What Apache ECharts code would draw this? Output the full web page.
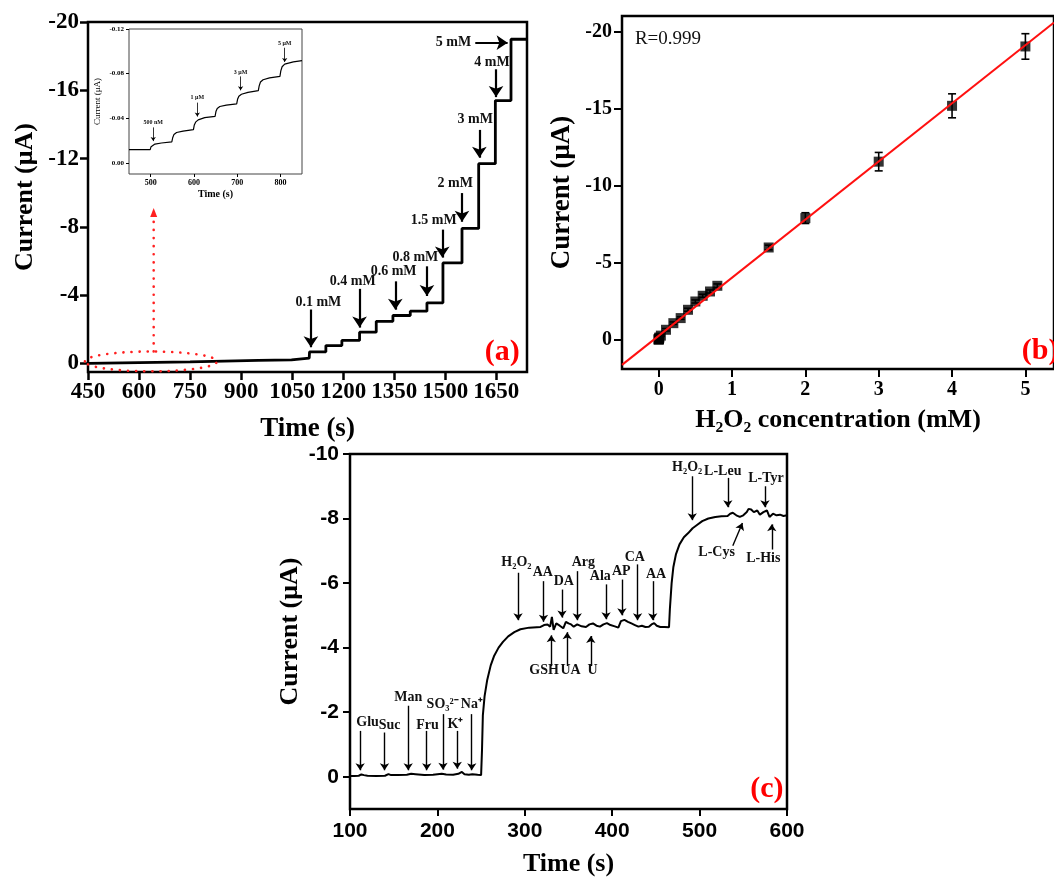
<!DOCTYPE html>
<html>
<head>
<meta charset="utf-8">
<title>H2O2 amperometric response</title>
<script src="https://cdn.jsdelivr.net/npm/echarts@6/dist/echarts.min.js"></script>
<style>
  html, body { margin: 0; padding: 0; background: #fff; }
  #chart { width: 1054px; height: 878px; }
</style>
</head>
<body>
<div id="chart"></div>
<script>
// ---------- panel (a): current steps vs time ----------
var aTickX = [450, 600, 750, 900, 1050, 1200, 1350, 1500, 1650];
var aTickY = [-20, -16, -12, -8, -4, 0];
var aBaseline = [[450, 0], [550, -0.03], [650, -0.06], [750, -0.09], [850, -0.14], [950, -0.18], [1048, -0.21], [1052, -0.27], [1100, -0.31]];
var aStepTimes = [1101, 1149, 1196, 1248, 1297, 1346, 1397, 1446, 1493, 1549, 1598, 1647, 1693];
var aStepLevels = [-0.68, -1.05, -1.35, -1.83, -2.47, -2.81, -3.06, -3.55, -5.89, -7.91, -11.70, -15.40, -18.99];
var aEndTime = 1740;
// [text, text t, text i, arrow t0, arrow i0, arrow t1, arrow i1]
var aNotes = [
  ['0.1 mM', 1127, -3.58, 1105, -3.16, 1105, -0.95],
  ['0.4 mM', 1228, -4.81, 1248, -4.37, 1248, -2.1],
  ['0.6 mM', 1348, -5.40, 1353, -4.81, 1353, -3.15],
  ['0.8 mM', 1412, -6.22, 1446, -5.69, 1446, -3.95],
  ['1.5 mM', 1466, -8.38, 1491, -7.84, 1491, -6.2],
  ['2 mM', 1529, -10.57, 1549, -9.98, 1549, -8.3],
  ['3 mM', 1588, -14.27, 1600, -13.68, 1600, -12.05],
  ['4 mM', 1637, -17.62, 1649, -17.23, 1649, -15.6],
  ['5 mM', 1524, -18.79, 1588, -18.79, 1683, -18.79]
];

// inset of (a)
var insetTickX = [500, 600, 700, 800];
var insetTickY = [-0.12, -0.08, -0.04, 0];
var insetCurve = [[450, -0.0119], [499, -0.0119], [501, -0.0145], [504, -0.0158], [510, -0.0168], [525, -0.0178], [549, -0.0188],
  [551, -0.0225], [554, -0.0255], [560, -0.0272], [575, -0.0285], [599, -0.0298],
  [601, -0.034], [604, -0.0365], [610, -0.0385], [625, -0.0405], [649, -0.0417],
  [651, -0.046], [654, -0.0488], [660, -0.0505], [675, -0.0518], [699, -0.0528],
  [701, -0.057], [704, -0.0598], [710, -0.0615], [725, -0.0632], [749, -0.0647],
  [751, -0.069], [754, -0.0725], [760, -0.0745], [775, -0.0762], [799, -0.0775],
  [801, -0.0825], [804, -0.0862], [810, -0.0885], [830, -0.0905], [850, -0.0916]];
var insetNotes = [
  ['500 nM', 506, -0.0358, 506, -0.0318, 506, -0.0195],
  ['1 μM', 608, -0.0582, 608, -0.0540, 608, -0.0415],
  ['3 μM', 708, -0.0814, 708, -0.0775, 708, -0.0650],
  ['5 μM', 810, -0.1074, 810, -0.1032, 810, -0.0905]
];

// ---------- panel (b): calibration ----------
var bTickX = [0, 1, 2, 3, 4, 5];
var bTickY = [-20, -15, -10, -5, 0];
var bConc = [0, 0.0005, 0.001, 0.003, 0.005, 0.01, 0.03, 0.1, 0.2, 0.3, 0.4, 0.5, 0.6, 0.7, 0.8, 1.5, 2, 3, 4, 5];
var bCurrent = [-0.01, -0.02, -0.04, -0.06, -0.09, -0.15, -0.27, -0.65, -1.08, -1.41, -1.95, -2.49, -2.86, -3.14, -3.51, -6.0, -7.91, -11.58, -15.21, -19.07];
var bError = [0.05, 0.05, 0.05, 0.05, 0.05, 0.05, 0.05, 0.08, 0.08, 0.08, 0.1, 0.1, 0.1, 0.1, 0.12, 0.15, 0.35, 0.6, 0.78, 0.83];

// ---------- panel (c): interference ----------
var cTickX = [100, 200, 300, 400, 500, 600];
var cTickY = [-10, -8, -6, -4, -2, 0];
var cCurve = [[100, -0.02], [105, -0.02], [110, -0.03], [113, -0.07], [116, -0.05], [120, -0.03], [130, -0.02], [140, -0.03],
  [144, -0.08], [147, -0.05], [155, -0.05], [165, -0.06], [170, -0.09], [175, -0.08], [185, -0.05], [195, -0.06],
  [205, -0.09], [210, -0.07], [218, -0.06], [224, -0.09], [228, -0.15], [231, -0.08], [236, -0.06], [240, -0.08],
  [246, -0.06], [250, -0.05],
  [251, -0.8], [252, -1.9], [254, -2.5], [257, -3.0], [261, -3.45], [265, -3.75], [270, -4.0], [275, -4.18],
  [281, -4.35], [288, -4.48], [295, -4.57], [305, -4.62], [318, -4.64], [322, -4.7], [326, -4.72], [329, -4.65],
  [331, -4.95], [333, -4.55], [336, -4.75], [340, -4.68], [344, -4.6], [347, -4.8], [350, -4.75], [353, -4.72],
  [356, -4.65], [360, -4.72], [365, -4.66], [370, -4.64], [374, -4.72], [378, -4.75], [382, -4.68], [386, -4.65],
  [390, -4.72], [394, -4.76], [398, -4.7], [403, -4.66], [407, -4.62], [410, -4.82], [414, -4.86], [418, -4.8],
  [422, -4.75], [426, -4.7], [430, -4.65], [434, -4.68], [438, -4.64], [442, -4.65], [445, -4.72], [448, -4.76],
  [451, -4.68], [455, -4.64], [460, -4.64], [465, -4.63],
  [466, -5.2], [468, -6.0], [470, -6.5], [473, -6.9], [477, -7.2], [482, -7.42], [487, -7.55], [492, -7.7],
  [497, -7.8], [503, -7.92], [510, -8.0], [518, -8.05], [525, -8.07], [532, -8.08], [535, -8.15], [538, -8.18],
  [542, -8.1], [546, -8.05], [550, -8.1], [554, -8.2], [556, -8.3], [559, -8.28], [562, -8.2], [566, -8.25],
  [569, -8.12], [573, -8.2], [577, -8.25], [580, -8.05], [584, -8.15], [588, -8.1], [592, -8.12], [596, -8.08], [600, -8.1]];
var cNotes = [
  ['Glu', 120.1, -1.68, 111.6, -1.42, 111.6, -0.2],
  ['Suc', 145.3, -1.58, 139.5, -1.37, 139.5, -0.2],
  ['Man', 166.6, -2.45, 166.6, -2.2, 166.6, -0.2],
  ['Fru', 188.6, -1.6, 187.8, -1.42, 187.8, -0.2],
  ['SO₃²⁻', 206, -2.25, 206.4, -1.94, 206.4, -0.22],
  ['K⁺', 220.7, -1.63, 222.7, -1.42, 222.7, -0.25],
  ['Na⁺', 239.5, -2.25, 239.3, -1.94, 239.3, -0.2],
  ['H₂O₂', 290.4, -6.63, 292.3, -6.32, 292.3, -4.85],
  ['AA', 320.6, -6.32, 321.4, -6.06, 321.4, -4.8],
  ['DA', 344.6, -6.06, 342.6, -5.8, 342.6, -4.93],
  ['Arg', 367, -6.63, 360, -6.37, 360, -4.85],
  ['Ala', 386.4, -6.22, 393, -5.96, 393, -4.88],
  ['AP', 410.4, -6.37, 411.1, -6.11, 411.1, -5.0],
  ['CA', 425.9, -6.81, 429, -6.58, 429, -4.85],
  ['AA', 450.2, -6.27, 446.4, -6.06, 446.4, -4.85],
  ['H₂O₂', 485.8, -9.57, 491.6, -9.31, 491.6, -7.95],
  ['L-Leu', 526.5, -9.46, 532.3, -9.26, 532.3, -8.35],
  ['L-Tyr', 576, -9.23, 574.8, -9.0, 574.8, -8.35],
  ['GSH', 322.1, -3.28, 330.3, -3.43, 330.3, -4.38],
  ['UA', 352.3, -3.28, 348.5, -3.43, 348.5, -4.48],
  ['U', 377.5, -3.28, 375.5, -3.43, 375.5, -4.36],
  ['L-Cys', 519.5, -6.94, 538, -7.16, 549, -7.86],
  ['L-His', 572.9, -6.78, 582.6, -7.04, 582.6, -7.82]
];

var SERIF = "'Liberation Serif', 'Times New Roman', serif";
var SANS = "'Liberation Sans', Arial, sans-serif";

// step trace for (a)
var aData = aBaseline.slice();
var prev = aBaseline[aBaseline.length - 1][1];
aStepTimes.forEach(function (t, i) {
  aData.push([t, prev]);
  aData.push([t, aStepLevels[i]]);
  prev = aStepLevels[i];
});
aData.push([aEndTime, prev]);

// least squares fit for (b)
var n = bConc.length, sx = 0, sy = 0, sxx = 0, sxy = 0;
bConc.forEach(function (c, i) {
  sx += c; sy += bCurrent[i]; sxx += c * c; sxy += c * bCurrent[i];
});
var slope = (n * sxy - sx * sy) / (n * sxx - sx * sx);
var icpt = (sy - slope * sx) / n;
var bMin = -0.5, bMax = 5.39;
var fitData = [[bMin, icpt + slope * bMin], [bMax, icpt + slope * bMax]];

function axis(grid, min, max, ticks, o) {
  return {
    type: 'value', gridIndex: grid, min: min, max: max, inverse: !!o.inverse,
    axisLine: { show: false, onZero: false },
    splitLine: { show: false },
    axisTick: { show: true, customValues: ticks, length: o.tickLen, lineStyle: { color: '#000', width: o.tickW } },
    axisLabel: {
      customValues: ticks, margin: o.margin, color: '#000',
      fontFamily: o.font, fontWeight: 'bold', fontSize: o.size,
      formatter: o.fmt || function (v) { return String(v); }
    },
    name: o.name, nameLocation: 'middle', nameGap: o.nameGap,
    nameTextStyle: { fontFamily: SERIF, fontWeight: o.nameWeight || 'bold', fontSize: o.nameSize, color: '#000' }
  };
}

function arrows(notes, width, size) {
  return {
    silent: true, animation: false, symbol: ['none', 'arrow'], symbolSize: size,
    label: { show: false }, emphasis: { disabled: true },
    lineStyle: { type: 'solid', color: '#000', width: width },
    data: notes.map(function (d) {
      return [{ coord: [d[3], d[4]] }, { coord: [d[5], d[6]] }];
    })
  };
}

var chart = echarts.init(document.getElementById('chart'));
var option = {
  animation: false,
  backgroundColor: '#fff',
  grid: [
    { left: 88, top: 22, width: 439, height: 350, show: true, borderColor: '#000', borderWidth: 2.5, backgroundColor: '#fff' },
    { left: 129, top: 29, width: 173, height: 145, show: true, borderColor: '#444', borderWidth: 1, backgroundColor: '#fff' },
    { left: 622, top: 16, width: 432, height: 353, show: true, borderColor: '#000', borderWidth: 2.5, backgroundColor: '#fff' },
    { left: 350, top: 454, width: 437, height: 360, show: true, borderColor: '#000', borderWidth: 2.5, backgroundColor: '#fff' }
  ],
  xAxis: [
    axis(0, 450, aEndTime, aTickX, { tickLen: 8, tickW: 2.5, margin: 9, font: SERIF, size: 23, name: 'Time (s)', nameGap: 44, nameSize: 27 }),
    axis(1, 450, 850, insetTickX, { tickLen: 3, tickW: 1, margin: 5, font: SERIF, size: 8, name: 'Time (s)', nameGap: 15, nameSize: 10 }),
    axis(2, bMin, bMax, bTickX, { tickLen: 8, tickW: 2, margin: 11, font: SERIF, size: 20, name: 'H₂O₂ concentration (mM)', nameGap: 38, nameSize: 26 }),
    axis(3, 100, 600, cTickX, { tickLen: 7, tickW: 2, margin: 12, font: SANS, size: 21, name: 'Time (s)', nameGap: 42, nameSize: 26 })
  ],
  yAxis: [
    axis(0, -20, 0.5, aTickY, { inverse: true, tickLen: 8, tickW: 2.5, margin: 9, font: SERIF, size: 23, name: 'Current (μA)', nameGap: 50, nameSize: 26 }),
    axis(1, -0.12, 0.01, insetTickY, { inverse: true, tickLen: 3, tickW: 1, margin: 5, font: SERIF, size: 7,
      fmt: function (v) { return v.toFixed(2); }, name: 'Current (μA)', nameGap: 27, nameSize: 9, nameWeight: 'normal' }),
    axis(2, -21.05, 1.9, bTickY, { inverse: true, tickLen: 8, tickW: 2, margin: 10, font: SERIF, size: 20, name: 'Current (μA)', nameGap: 46, nameSize: 27 }),
    axis(3, -10, 1, cTickY, { inverse: true, tickLen: 7, tickW: 2, margin: 11, font: SANS, size: 21, name: 'Current (μA)', nameGap: 47, nameSize: 26 })
  ],
  series: [
    {
      type: 'line', xAxisIndex: 0, yAxisIndex: 0, data: aData, showSymbol: false, silent: true,
      lineStyle: { color: '#000', width: 2.8 }, markLine: arrows(aNotes, 2.2, 11)
    },
    {
      type: 'line', xAxisIndex: 1, yAxisIndex: 1, data: insetCurve, showSymbol: false, silent: true,
      lineStyle: { color: '#000', width: 1.2 }, markLine: arrows(insetNotes, 0.8, 4)
    },
    {
      type: 'line', xAxisIndex: 2, yAxisIndex: 2, data: fitData, showSymbol: false, silent: true,
      lineStyle: { color: '#ff1010', width: 2 }
    },
    {
      type: 'custom', xAxisIndex: 2, yAxisIndex: 2, silent: true,
      data: bConc.map(function (c, i) { return [c, bCurrent[i], bError[i]]; }),
      renderItem: function (params, api) {
        var x = api.value(0), y = api.value(1), e = api.value(2);
        var p0 = api.coord([x, y - e]), p1 = api.coord([x, y + e]);
        var st = { stroke: '#000', lineWidth: 1.6 };
        return {
          type: 'group', children: [
            { type: 'line', shape: { x1: p0[0], y1: p0[1], x2: p1[0], y2: p1[1] }, style: st },
            { type: 'line', shape: { x1: p0[0] - 4, y1: p0[1], x2: p0[0] + 4, y2: p0[1] }, style: st },
            { type: 'line', shape: { x1: p1[0] - 4, y1: p1[1], x2: p1[0] + 4, y2: p1[1] }, style: st }
          ]
        };
      }
    },
    {
      type: 'scatter', xAxisIndex: 2, yAxisIndex: 2, silent: true, symbol: 'rect', symbolSize: 10,
      itemStyle: { color: '#000' },
      data: bConc.map(function (c, i) { return [c, bCurrent[i]]; })
    },
    {
      type: 'line', xAxisIndex: 3, yAxisIndex: 3, data: cCurve, showSymbol: false, silent: true,
      lineStyle: { color: '#000', width: 2 }, markLine: arrows(cNotes, 1.4, 7)
    }
  ]
};
chart.setOption(option);

// text labels and the red zoom marker, placed from data coordinates
function px(g, p) { return chart.convertToPixel({ gridIndex: g }, p); }
function label(g, x, y, text, font, color) {
  var p = px(g, [x, y]);
  return {
    type: 'text', x: p[0], y: p[1], silent: true, z: 50,
    style: { text: text, font: font, fill: color || '#111', textAlign: 'center', textVerticalAlign: 'middle', align: 'center', verticalAlign: 'middle' }
  };
}
var gfx = [];
aNotes.forEach(function (d) { gfx.push(label(0, d[1], d[2], d[0], 'bold 14px ' + SERIF)); });
insetNotes.forEach(function (d) { gfx.push(label(1, d[1], d[2], d[0], 'bold 6px ' + SERIF)); });
cNotes.forEach(function (d) { gfx.push(label(3, d[1], d[2], d[0], 'bold 14px ' + SERIF)); });
gfx.push(label(0, 1667, -0.63, '(a)', 'bold 30px ' + SERIF, '#ff0000'));
gfx.push(label(2, 5.2, 0.76, '(b)', 'bold 30px ' + SERIF, '#ff0000'));
gfx.push(label(3, 577, 0.39, '(c)', 'bold 30px ' + SERIF, '#ff0000'));
gfx.push(label(2, 0.127, -19.56, 'R=0.999', '19px ' + SERIF, '#111'));

var zoomMark = { t: 635, i: -0.12, dt: 194, di: 0.58, arrowT: 643, arrowTop: -9.1 };
var ec = px(0, [zoomMark.t, zoomMark.i]);
var ee = px(0, [zoomMark.t + zoomMark.dt, zoomMark.i + zoomMark.di]);
var ry = Math.abs(ee[1] - ec[1]);
var tip = px(0, [zoomMark.arrowT, zoomMark.arrowTop]);
var dotted = { stroke: '#ff2020', lineWidth: 2.6, lineDash: [0.1, 8], lineCap: 'round', fill: null };
gfx.push({ type: 'ellipse', silent: true, z: 60, shape: { cx: ec[0], cy: ec[1], rx: Math.abs(ee[0] - ec[0]), ry: ry }, style: dotted });
gfx.push({ type: 'line', silent: true, z: 60, shape: { x1: tip[0], y1: ec[1] - ry, x2: tip[0], y2: tip[1] + 8 }, style: dotted });
gfx.push({ type: 'polygon', silent: true, z: 60, shape: { points: [[tip[0], tip[1]], [tip[0] - 3.5, tip[1] + 9], [tip[0] + 3.5, tip[1] + 9]] }, style: { fill: '#ff2020' } });

chart.setOption({ graphic: gfx });
</script>
</body>
</html>
